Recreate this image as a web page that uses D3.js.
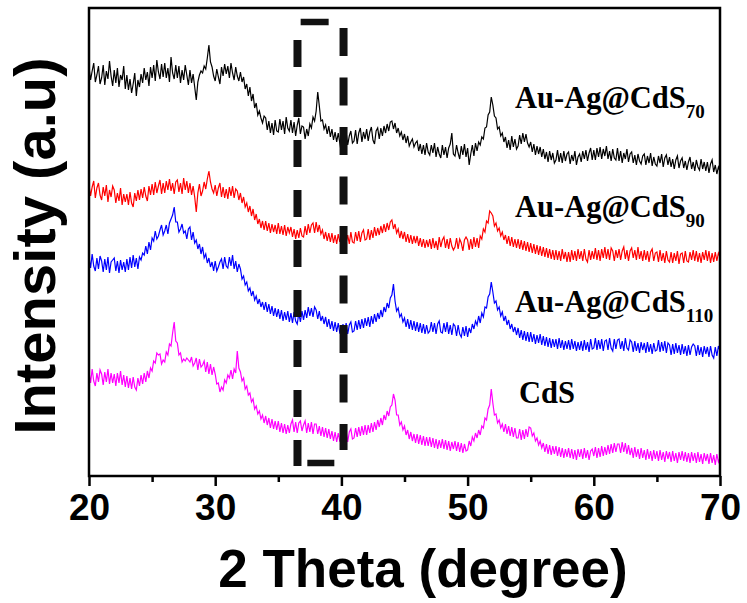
<!DOCTYPE html>
<html>
<head>
<meta charset="utf-8">
<script src="https://cdn.jsdelivr.net/npm/d3@7"></script>
<style>
  html, body { margin: 0; padding: 0; background: #fff; }
  svg { display: block; }
</style>
</head>
<body>
<svg id="chart" width="747" height="603"></svg>
<script>
// ---- data (2θ from 20 to 70 in steps of 0.125°, one row per degree) ----
const thetaStart = 20, thetaStep = 0.125;
const xTicks = [20, 30, 40, 50, 60, 70];
const xMinorTicks = [25, 35, 45, 55, 65];
const seriesNames = ["Au-Ag@CdS70", "Au-Ag@CdS90", "Au-Ag@CdS110", "CdS"];
const seriesColors = ["#000000", "#ff0000", "#0000ff", "#ff00ff"];

const blackValues = [
409,396,405,413,394,401,410,392, 398,411,391,405,397,415,400,390,
406,393,408,389,401,396,410,387, 401,386,397,383,392,403,380,396,
389,402,393,408,396,404,390,409, 398,411,395,416,404,397,412,399,
413,398,408,394,419,403,397,411, 398,410,393,406,396,411,401,391,
406,393,402,389,376,394,401,405, 403,410,407,418,431,414,409,400,
395,407,399,392,409,400,412,402, 410,398,413,403,396,409,400,395,
404,394,399,387,392,380,389,375, 382,368,373,361,365,358,353,360,
358,346,355,343,353,341,356,345, 344,357,346,355,342,359,348,345,
356,343,354,340,351,358,342,350, 349,337,347,340,352,348,359,355,
365,384,370,355,356,347,351,342, 350,339,347,336,344,334,343,333,
322,341,332,344,331,340,345,333, 335,346,332,343,348,334,344,337,
347,335,344,349,336,332,345,348, 337,348,340,350,343,352,345,354,
355,347,353,343,348,340,344,336, 342,333,340,330,334,337,329,333,
335,325,332,322,331,321,333,324, 321,331,323,333,319,329,322,318,
331,321,329,318,328,332,343,322, 320,331,323,317,330,321,332,319,
328,311,322,331,320,333,325,334, 331,339,337,348,349,361,364,379,
371,360,358,347,349,340,343,334, 339,328,336,326,340,329,337,327,
330,341,332,343,334,342,333,329, 334,324,332,321,330,322,329,319,
327,317,324,314,325,316,323,313, 316,326,314,323,313,325,315,322,
324,312,321,315,325,311,319,322, 314,325,317,326,315,323,328,316,
326,316,328,319,329,317,327,320, 330,317,325,315,327,318,316,328,
315,325,313,323,317,327,314,322, 324,313,321,311,322,315,312,320,
322,311,320,313,323,310,319,312, 310,320,313,322,309,318,321,311,
319,309,317,307,316,320,308,315, 318,308,315,306,314,319,307,314,
305,316,309,306,317,307,314,305, 314,303,312,316,304,311,302,309,
305];

const redValues = [
291,280,289,295,278,288,293,281, 276,289,280,291,274,286,279,290,
286,273,283,275,288,271,282,274, 282,271,284,273,269,283,275,286,
276,287,278,289,280,275,290,281, 292,281,294,283,290,296,282,293,
283,295,286,297,285,293,282,294, 296,284,293,282,298,286,295,283,
293,281,290,279,264,283,292,280, 285,294,287,297,305,294,287,283,
291,280,288,293,279,289,278,287, 277,289,280,290,278,287,285,276,
283,273,279,269,273,264,270,260, 267,256,262,252,257,248,255,246,
255,245,253,243,252,244,251,242, 253,242,250,241,251,240,249,243,
249,239,247,237,246,238,248,240, 239,250,241,252,243,251,253,243,
254,244,251,242,246,237,244,235, 243,234,243,233,241,232,242,234,
241,231,242,233,241,232,244,234, 233,244,235,245,234,243,246,236,
237,247,236,246,238,249,240,248, 241,250,243,252,244,253,246,254,
256,247,252,243,247,238,245,237, 244,234,242,233,241,232,240,233,
240,230,238,229,237,228,236,229, 237,227,238,228,235,226,239,229,
236,239,228,237,227,238,230,226, 229,238,227,237,233,225,236,239,
236,226,237,227,239,229,238,228, 240,237,247,244,255,253,265,263,
260,250,253,245,248,240,244,236, 241,232,240,230,239,229,237,228,
237,227,236,226,235,225,234,224, 233,223,232,222,231,221,230,220,
229,219,228,218,227,217,226,216, 226,216,225,215,227,217,224,214,
224,214,226,216,225,215,227,217, 225,215,227,217,214,226,216,225,
217,228,216,226,215,227,218,229, 217,227,216,228,225,215,226,218,
227,216,225,229,217,226,215,225, 228,218,226,216,229,217,225,215,
226,216,225,214,224,227,215,223, 224,214,226,215,223,213,225,216,
214,224,213,223,215,225,212,222, 223,213,225,215,214,224,216,226,
215,225,214,223,213,224,216,226, 215,225,213,223,214,224,215,223,
219];

const blueValues = [
219,208,222,210,205,218,207,220, 215,204,217,206,219,203,214,216,
218,205,215,203,216,206,214,204, 217,206,219,208,221,209,218,207,
219,216,223,221,230,222,234,226, 238,235,245,237,240,246,251,241,
245,251,242,253,257,261,269,254, 254,244,247,252,243,245,237,247,
249,236,244,233,236,227,232,222, 229,218,222,213,218,209,214,205,
215,205,209,214,217,207,219,210, 208,219,210,221,207,215,204,212,
207,197,200,191,194,185,188,180, 185,176,180,172,177,169,174,166,
174,164,172,162,170,160,168,159, 167,157,166,155,164,156,165,154,
163,153,164,155,152,163,154,165, 156,166,158,169,160,168,159,169,
166,157,165,155,160,152,159,149, 157,147,155,145,154,144,153,143,
141,152,143,153,142,151,154,144, 145,155,146,156,147,157,148,158,
150,159,149,160,152,162,154,163, 157,166,159,169,164,173,168,178,
181,192,175,165,168,159,162,154, 158,149,157,147,156,146,155,145,
154,144,153,143,152,142,151,143, 145,154,144,153,142,152,155,144,
143,153,144,154,142,151,141,152, 150,140,151,142,139,149,140,150,
139,148,143,152,147,155,151,160, 153,163,159,169,168,179,182,194,
184,173,175,166,169,160,164,155, 160,151,156,147,152,144,149,141,
148,138,146,136,145,135,144,134, 144,134,142,132,141,133,142,131,
140,130,139,129,138,128,137,129, 137,127,138,128,136,126,135,127,
136,126,137,127,135,125,134,126, 135,125,136,126,134,124,137,127,
128,138,126,136,127,137,125,135, 136,126,138,128,125,137,127,136,
137,127,135,125,138,128,126,136, 134,124,135,125,133,123,134,126,
133,123,134,124,132,122,133,125, 126,136,124,134,125,135,123,133,
131,121,132,122,133,123,131,121, 132,122,130,120,131,121,129,132,
130,120,131,121,129,119,130,122, 129,119,130,121,118,129,120,130,
125];

const magentaValues = [
104,93,107,95,90,103,94,106, 102,91,104,94,107,92,103,93,
102,90,103,93,105,91,101,89, 100,88,98,87,99,89,86,98,
90,101,92,103,94,105,98,108, 105,115,113,123,121,122,112,116,
114,124,121,132,130,143,154,135, 133,121,123,114,117,115,118,116,
114,119,110,113,118,106,117,109, 111,115,104,114,102,112,101,109,
102,92,93,84,89,86,96,93, 101,98,106,97,107,103,125,108,
104,95,98,87,90,81,83,74, 77,67,70,62,65,57,61,53,
60,51,58,48,57,47,55,46, 55,44,53,43,52,42,51,43,
52,56,44,54,43,53,55,45, 51,55,43,53,44,54,42,52,
52,42,50,40,49,39,48,38, 47,37,45,35,44,34,43,35,
36,46,35,45,34,44,47,37, 38,48,39,49,40,50,41,51,
41,51,43,53,44,54,46,56, 49,58,51,61,56,65,60,69,
71,82,76,61,61,51,54,46, 50,41,46,37,44,35,42,33,
42,32,41,31,40,30,39,30, 39,29,38,28,37,27,36,28,
37,27,36,26,35,25,34,27, 35,25,34,24,33,23,32,25,
26,35,30,39,35,43,38,46, 41,50,48,58,56,67,71,87,
73,61,62,53,56,48,52,44, 52,42,50,40,49,39,48,38,
38,47,36,46,37,47,39,49, 48,40,43,35,38,31,35,28,
33,24,32,22,31,21,30,22, 30,20,29,19,28,18,27,19,
28,18,27,17,26,16,27,19, 27,17,28,18,26,16,25,27,
20,29,18,28,19,30,20,29, 21,31,22,32,23,33,24,32,
32,23,34,24,33,22,31,21, 28,18,29,19,27,17,28,18,
26,16,27,17,25,15,26,17, 25,15,26,16,24,14,25,17,
24,14,25,15,23,13,24,16, 25,15,24,14,23,13,24,15,
23,13,24,14,22,12,23,15, 22,12,23,13,21,11,22,14,
18];

const allValues = [blackValues, redValues, blueValues, magentaValues];

(function () {
const svg = d3.select("#chart");
const pLeft = 89, pRight = 720, pTop = 8, pBottom = 476;
const x = d3.scaleLinear().domain([20, 70]).range([pLeft, pRight]);
const y = d3.scaleLinear().domain([0, 468]).range([pBottom, pTop]);

const sansFont = "'Liberation Sans', Arial, Helvetica, sans-serif";
const serifFont = "'Liberation Serif', 'Times New Roman', serif";

svg.append("defs").append("clipPath").attr("id", "plotclip")
  .append("rect").attr("x", pLeft).attr("y", pTop).attr("width", pRight - pLeft).attr("height", pBottom - pTop);

const line = d3.line()
  .x((d, i) => x(thetaStart + i * thetaStep))
  .y(d => y(d));

const curves = svg.append("g").attr("clip-path", "url(#plotclip)");
allValues.forEach((vals, k) => {
  curves.append("path")
    .datum(vals)
    .attr("d", line)
    .attr("fill", "none")
    .attr("stroke", seriesColors[k])
    .attr("stroke-width", 1.2)
    .attr("stroke-linejoin", "miter");
});

// dashed box annotation
const boxLeft = 36.52, boxRight = 40.17;
const dashG = svg.append("g").attr("stroke", "#111").attr("fill", "none");
dashG.append("line")
  .attr("x1", x(boxLeft)).attr("x2", x(boxLeft))
  .attr("y1", y(436)).attr("y2", y(10))
  .attr("stroke-width", 8).attr("stroke-dasharray", "27,23");
dashG.append("line")
  .attr("x1", x(boxRight)).attr("x2", x(boxRight))
  .attr("y1", y(448)).attr("y2", y(26))
  .attr("stroke-width", 8).attr("stroke-dasharray", "28,21.5");
dashG.append("line")
  .attr("x1", x(36.77)).attr("x2", x(38.99))
  .attr("y1", y(454)).attr("y2", y(454))
  .attr("stroke-width", 6.5);
dashG.append("line")
  .attr("x1", x(37.3)).attr("x2", x(39.44))
  .attr("y1", y(13)).attr("y2", y(13))
  .attr("stroke-width", 6.5);

// frame
svg.append("rect")
  .attr("x", pLeft).attr("y", pTop)
  .attr("width", pRight - pLeft).attr("height", pBottom - pTop)
  .attr("fill", "none").attr("stroke", "#000").attr("stroke-width", 2.5);

// x axis
const xAxis = d3.axisBottom(x).tickValues(xTicks).tickSize(10).tickPadding(8).tickFormat(d3.format("d"));
const ax = svg.append("g").attr("transform", `translate(0,${pBottom})`).call(xAxis);
ax.select(".domain").remove();
ax.selectAll(".tick line").attr("stroke", "#000").attr("stroke-width", 2.5);
ax.selectAll(".tick text")
  .attr("fill", "#000")
  .style("font-family", sansFont)
  .style("font-weight", "bold")
  .style("font-size", "37px");

const minorAxis = d3.axisBottom(x).tickValues(xMinorTicks).tickSize(6).tickFormat("");
const mx = svg.append("g").attr("transform", `translate(0,${pBottom})`).call(minorAxis);
mx.select(".domain").remove();
mx.selectAll(".tick line").attr("stroke", "#000").attr("stroke-width", 2.5);

// axis titles
svg.append("text")
  .attr("x", 423).attr("y", 587)
  .attr("text-anchor", "middle")
  .style("font-family", sansFont).style("font-weight", "bold").style("font-size", "53px")
  .text("2 Theta (degree)");

svg.append("text")
  .attr("transform", "translate(55,246) rotate(-90)")
  .attr("text-anchor", "middle")
  .style("font-family", sansFont).style("font-weight", "bold").style("font-size", "58px")
  .text("Intensity (a.u)");

// series labels
const labelDefs = [
  { main: "Au-Ag@CdS", sub: "70", x: 515, y: 108 },
  { main: "Au-Ag@CdS", sub: "90", x: 515, y: 217 },
  { main: "Au-Ag@CdS", sub: "110", x: 515, y: 312 },
  { main: "CdS", sub: "", x: 519, y: 403 }
];
labelDefs.forEach(l => {
  const t = svg.append("text")
    .attr("x", l.x).attr("y", l.y)
    .style("font-family", serifFont).style("font-weight", "bold").style("font-size", "30.5px")
    .attr("fill", "#000");
  t.append("tspan").text(l.main);
  if (l.sub) {
    t.append("tspan").attr("dy", 10).style("font-size", "19px").text(l.sub);
  }
});
})();
</script>
</body>
</html>
